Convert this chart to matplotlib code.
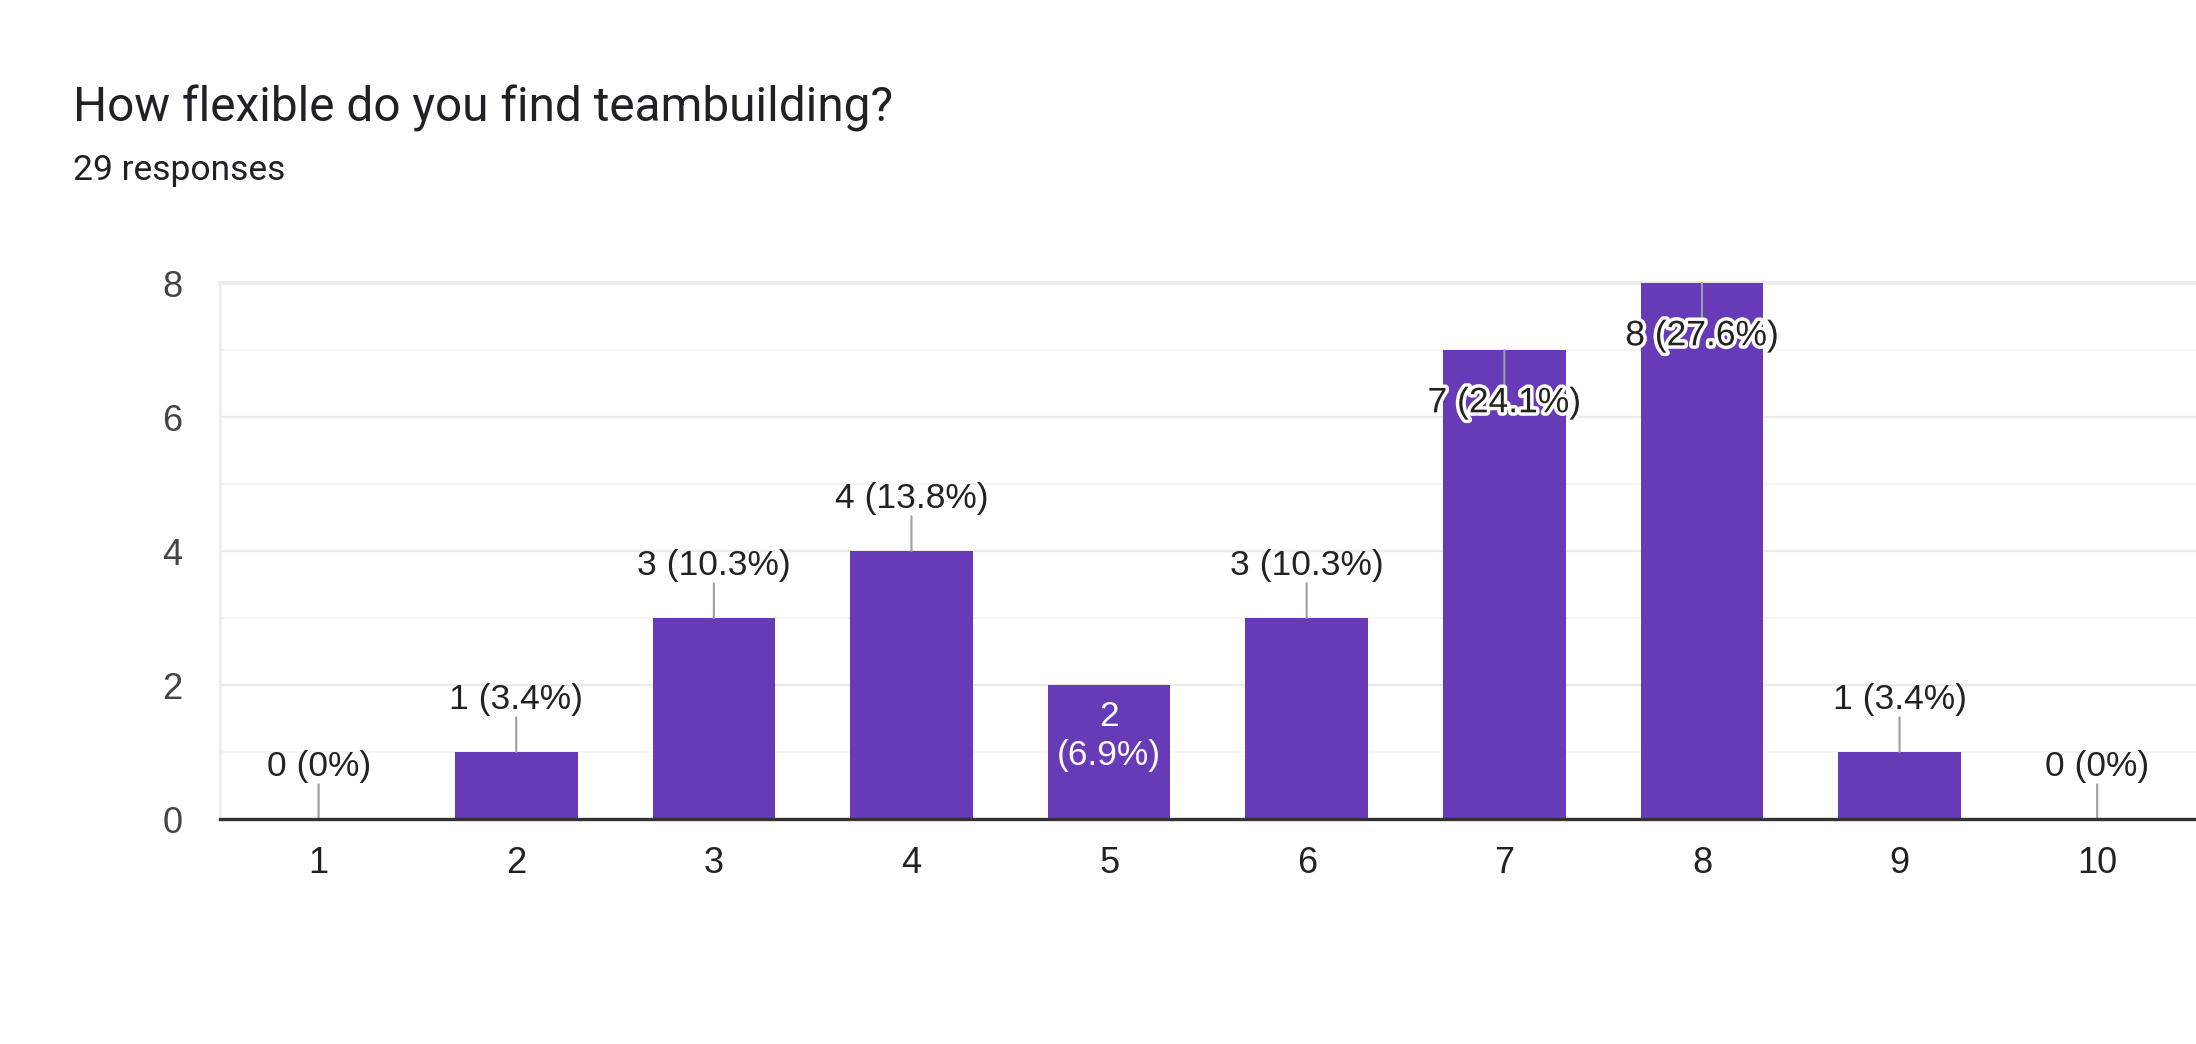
import matplotlib
matplotlib.use("Agg")
import matplotlib.pyplot as plt
import matplotlib.patheffects as pe
from matplotlib.ticker import MultipleLocator

title = "How flexible do you find teambuilding?"
subtitle = "29 responses"
categories = ["1", "2", "3", "4", "5", "6", "7", "8", "9", "10"]
counts = [0, 1, 3, 4, 2, 3, 7, 8, 1, 0]
percents = ["0%", "3.4%", "10.3%", "13.8%", "6.9%", "10.3%", "24.1%", "27.6%", "3.4%", "0%"]

PURPLE = "#673ab7"
CHART_FONT = ["Liberation Sans", "DejaVu Sans"]
LABEL_SIZE = 25.5

fig = plt.figure(figsize=(21.96, 10.44), dpi=100)
fig.text(0.0332, 0.884, title, fontsize=34.4, family=["Roboto", "DejaVu Sans"],
         color="#202124", va="baseline")
fig.text(0.0332, 0.828, subtitle, fontsize=25.5, family=["Roboto", "DejaVu Sans"],
         color="#202124", va="baseline")

ax = fig.add_axes([0.1001, 0.2154, 0.8999, 0.5135])
x = list(range(len(categories)))
ax.bar(x, counts, width=0.62, color=PURPLE, zorder=3)
ax.set_xlim(-0.5, len(categories) - 0.5)
ax.set_ylim(0, 8)

ax.yaxis.set_major_locator(MultipleLocator(2))
ax.yaxis.set_minor_locator(MultipleLocator(1))
ax.grid(which="major", axis="y", color="#ebebeb", lw=1.6, zorder=0)
ax.grid(which="minor", axis="y", color="#f5f5f5", lw=1.4, zorder=0)
ax.axhline(8, color="#ebebeb", lw=3, zorder=1, clip_on=False)
ax.tick_params(axis="both", which="both", length=0)
ax.tick_params(axis="y", pad=27, labelsize=26, labelcolor="#444444")
ax.tick_params(axis="x", pad=19, labelsize=26, labelcolor="#222222")
ax.set_xticks(x)
ax.set_xticklabels(categories)
for lab in ax.get_xticklabels() + ax.get_yticklabels():
    lab.set_family(CHART_FONT)

for s in ["top", "right"]:
    ax.spines[s].set_visible(False)
ax.spines["left"].set_color("#ebebeb")
ax.spines["left"].set_linewidth(1.8)
ax.spines["bottom"].set_color("#333333")
ax.spines["bottom"].set_linewidth(2.4)
ax.spines["bottom"].set_zorder(5)

halo = [pe.withStroke(linewidth=5, foreground="white")]
for xi, c, p in zip(x, counts, percents):
    label = f"{c} ({p})"
    if c == 2:
        # label sits inside the bar in white, wrapped on two lines
        ax.annotate(f"{c}\n({p})", (xi, c), xytext=(0, -11), textcoords="offset points",
                    ha="center", va="top", fontsize=LABEL_SIZE, color="white",
                    family=CHART_FONT, linespacing=1.2, zorder=6)
    elif c > 6:
        ax.annotate("", (xi, c), xytext=(0, -25), textcoords="offset points",
                    arrowprops=dict(arrowstyle="-", color="#9e9e9e", lw=1.5,
                                    shrinkA=0, shrinkB=0), zorder=4)
        ax.annotate(label, (xi, c), xytext=(0, -38), textcoords="offset points",
                    ha="center", va="center", fontsize=LABEL_SIZE, color="#222222",
                    family=CHART_FONT, path_effects=halo, zorder=6)
    else:
        ax.annotate("", (xi, c), xytext=(0, 25), textcoords="offset points",
                    arrowprops=dict(arrowstyle="-", color="#9e9e9e", lw=1.5,
                                    shrinkA=0, shrinkB=0), zorder=4)
        ax.annotate(label, (xi, c), xytext=(0, 38), textcoords="offset points",
                    ha="center", va="center", fontsize=LABEL_SIZE, color="#222222",
                    family=CHART_FONT, zorder=6, annotation_clip=False)

fig.savefig("out.png", dpi=100, facecolor="white")
